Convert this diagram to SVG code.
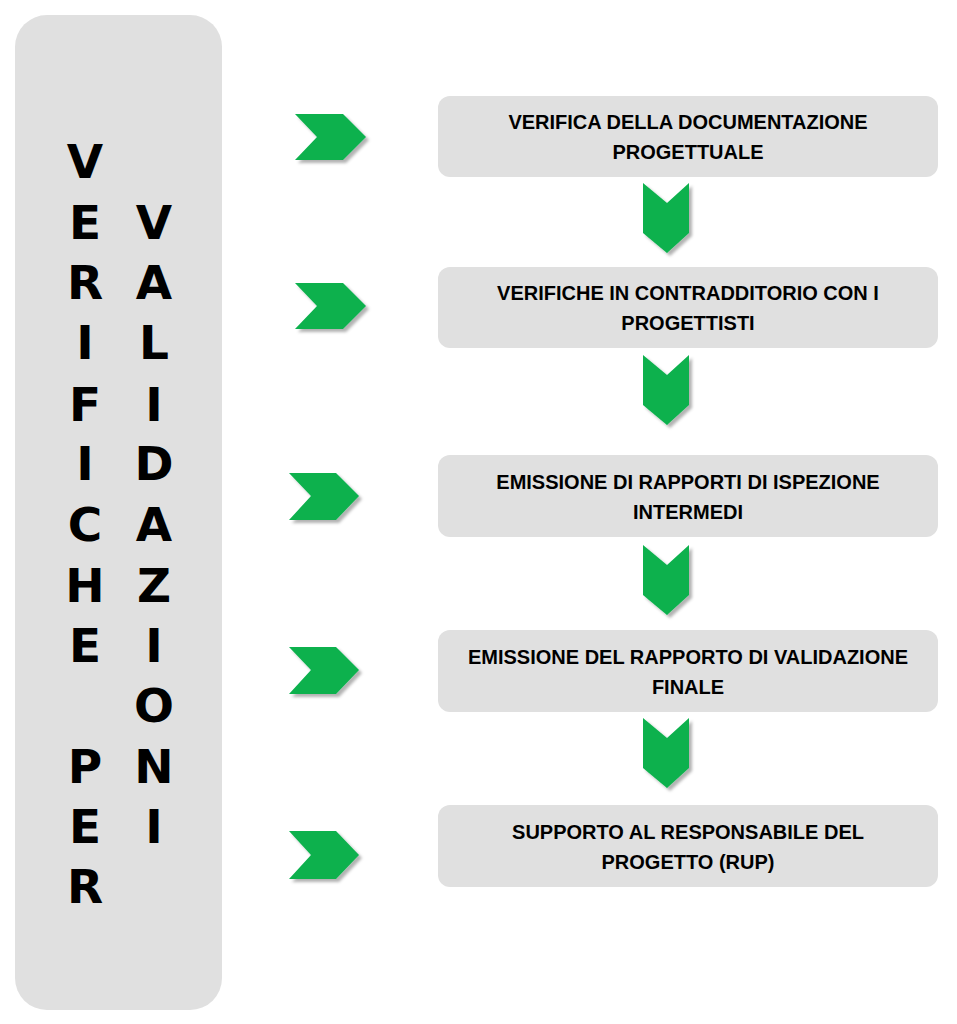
<svg xmlns="http://www.w3.org/2000/svg" width="957" height="1024" viewBox="0 0 957 1024">
<defs>
<filter id="sh" x="-20%" y="-20%" width="150%" height="150%">
<feDropShadow dx="3" dy="3" stdDeviation="1.5" flood-color="#000" flood-opacity="0.3"/>
</filter>
<style>
.panel{fill:#e0e0e0}
.box{fill:#e0e0e0}
.big{font-family:"DejaVu Sans",Verdana,sans-serif;font-weight:bold;font-size:47px;fill:#000;text-anchor:middle}
.lbl{font-family:"Liberation Sans",Arial,sans-serif;font-weight:bold;font-size:20px;fill:#000;text-anchor:middle}
.chev{fill:#0bb14e;filter:url(#sh)}
</style>
</defs>
<rect width="957" height="1024" fill="#fff"/>
<g id="panel">
<rect class="panel" x="15" y="15" width="207" height="995" rx="32"/>
<g class="big">
<text x="85" y="178">V</text>
<text x="85" y="239">E</text>
<text x="85" y="299">R</text>
<text x="85" y="359">I</text>
<text x="85" y="421">F</text>
<text x="85" y="480">I</text>
<text x="85" y="541">C</text>
<text x="85" y="602">H</text>
<text x="85" y="662">E</text>
<text x="85" y="783">P</text>
<text x="85" y="843">E</text>
<text x="85" y="903">R</text>
<text x="154" y="239">V</text>
<text x="154" y="299">A</text>
<text x="154" y="359">L</text>
<text x="154" y="421">I</text>
<text x="154" y="480">D</text>
<text x="154" y="541">A</text>
<text x="154" y="602">Z</text>
<text x="154" y="662">I</text>
<text x="154" y="722">O</text>
<text x="154" y="783">N</text>
<text x="154" y="843">I</text>
</g>
</g>
<g id="connectors">
<polygon class="chev" points="295,114 343,114 366,137 343,160 295,160 317,137"/>
<polygon class="chev" points="295,283 343,283 366,306 343,329 295,329 317,306"/>
<polygon class="chev" points="289,473 336,473 359,496 336,520 289,520 311,496"/>
<polygon class="chev" points="289,647 336,647 359,670 336,694 289,694 311,670"/>
<polygon class="chev" points="289,831 336,831 359,855 336,879 289,879 311,855"/>
<polygon class="chev" points="643,183 667,203 689,183 689,233 667,253 643,233"/>
<polygon class="chev" points="643,355 667,375 689,355 689,405 667,425 643,405"/>
<polygon class="chev" points="643,545 667,565 689,545 689,595 667,615 643,595"/>
<polygon class="chev" points="643,718 667,738 689,718 689,768 667,788 643,768"/>
</g>
<g id="box1">
<rect class="box" x="438" y="96" width="500" height="81" rx="12"/>
<text class="lbl" x="688" y="129">VERIFICA DELLA DOCUMENTAZIONE</text>
<text class="lbl" x="688" y="159">PROGETTUALE</text>
</g>
<g id="box2">
<rect class="box" x="438" y="267" width="500" height="81" rx="12"/>
<text class="lbl" x="688" y="300">VERIFICHE IN CONTRADDITORIO CON I</text>
<text class="lbl" x="688" y="330">PROGETTISTI</text>
</g>
<g id="box3">
<rect class="box" x="438" y="455" width="500" height="82" rx="12"/>
<text class="lbl" x="688" y="489">EMISSIONE DI RAPPORTI DI ISPEZIONE</text>
<text class="lbl" x="688" y="519">INTERMEDI</text>
</g>
<g id="box4">
<rect class="box" x="438" y="630" width="500" height="82" rx="12"/>
<text class="lbl" x="688" y="664">EMISSIONE DEL RAPPORTO DI VALIDAZIONE</text>
<text class="lbl" x="688" y="694">FINALE</text>
</g>
<g id="box5">
<rect class="box" x="438" y="805" width="500" height="82" rx="12"/>
<text class="lbl" x="688" y="839">SUPPORTO AL RESPONSABILE DEL</text>
<text class="lbl" x="688" y="869">PROGETTO (RUP)</text>
</g>
</svg>
